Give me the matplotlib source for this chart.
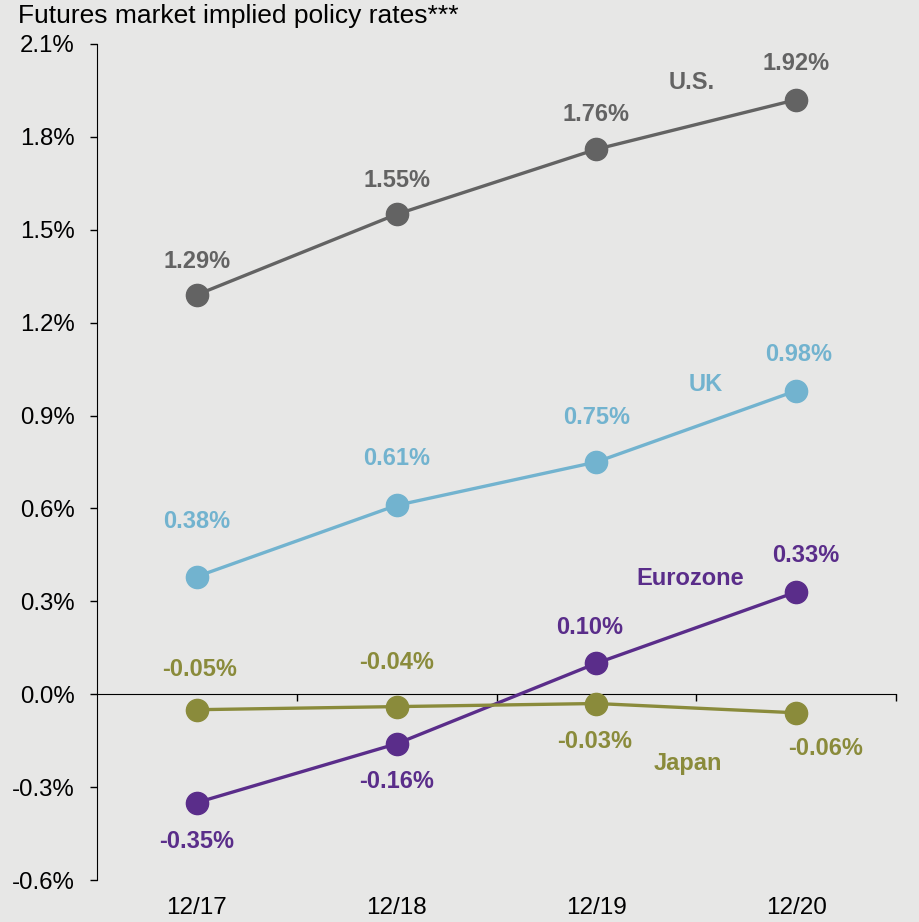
import matplotlib
matplotlib.use("Agg")
import matplotlib.pyplot as plt
import matplotlib.transforms as mtransforms

plt.rcParams["font.family"] = ["Liberation Sans", "DejaVu Sans"]

# data
dates = ["12/17", "12/18", "12/19", "12/20"]
us = [1.29, 1.55, 1.76, 1.92]
uk = [0.38, 0.61, 0.75, 0.98]
eurozone = [-0.35, -0.16, 0.10, 0.33]
japan = [-0.05, -0.04, -0.03, -0.06]
series_names = ["U.S.", "UK", "Eurozone", "Japan"]
y_ticks = [-0.6, -0.3, 0.0, 0.3, 0.6, 0.9, 1.2, 1.5, 1.8, 2.1]

BG = "#e7e7e6"
COLORS = ["#636363", "#72b3cf", "#5a2d8a", "#8a8b3b"]

# label offsets (points) for each value label, and where each series name sits
OFFSETS = [
    [(0, 24), (0, 24), (0, 25), (0, 26)],
    [(0, 40), (0, 34), (0, 32), (2, 26)],
    [(0, -28), (0, -27), (-5, 26), (7, 26)],
    [(2, 29), (0, 32), (-1, -27), (21, -26)],
]
NAME_POS = [(2.475, 1.975), (2.55, 1.0), (2.47, 0.375), (2.46, -0.225)]

fig = plt.figure(figsize=(9.19, 9.22), dpi=100, facecolor=BG)
ax = fig.add_axes([97 / 919, 42 / 922, 799 / 919, 836 / 922])
ax.set_facecolor(BG)

x = list(range(len(dates)))
for vals, col, offs, name, npos in zip([us, uk, eurozone, japan], COLORS, OFFSETS,
                                       series_names, NAME_POS):
    ax.plot(x, vals, color=col, lw=2.4, marker="o", ms=16, zorder=3)
    for xi, v, (dx, dy) in zip(x, vals, offs):
        ax.annotate(f"{v:.2f}%", (xi, v), xytext=(dx, dy), textcoords="offset points",
                    ha="center", va="center", fontsize=17, fontweight="bold", color=col)
    ax.text(npos[0], npos[1], name, ha="center", va="center", fontsize=17,
            fontweight="bold", color=col)

ax.set_xlim(-0.5, 3.5)
ax.set_ylim(-0.6, 2.1)

for s in ("top", "right"):
    ax.spines[s].set_visible(False)
ax.spines["left"].set_color("black")
ax.spines["bottom"].set_position(("data", 0))
ax.spines["bottom"].set_color("black")

ax.set_yticks(y_ticks)
ax.set_yticklabels([f"{v:.1f}%" for v in y_ticks])
ax.tick_params(axis="y", direction="out", length=5, width=1, pad=11,
               labelsize=17.3, colors="black")
ax.set_xticks([0.5, 1.5, 2.5, 3.5])
ax.set_xticklabels([])
ax.tick_params(axis="x", direction="out", length=5, width=1)

# category labels along the bottom of the plot
trans = mtransforms.blended_transform_factory(ax.transData, ax.transAxes)
for xi, d in zip(x, dates):
    ax.text(xi, -0.034, d, transform=trans, ha="center", va="center", fontsize=17.5)

fig.text(18 / 919, 1 - 16 / 922, "Futures market implied policy rates***",
         ha="left", va="center", fontsize=19)

fig.savefig("out.png", dpi=100, facecolor=BG)
